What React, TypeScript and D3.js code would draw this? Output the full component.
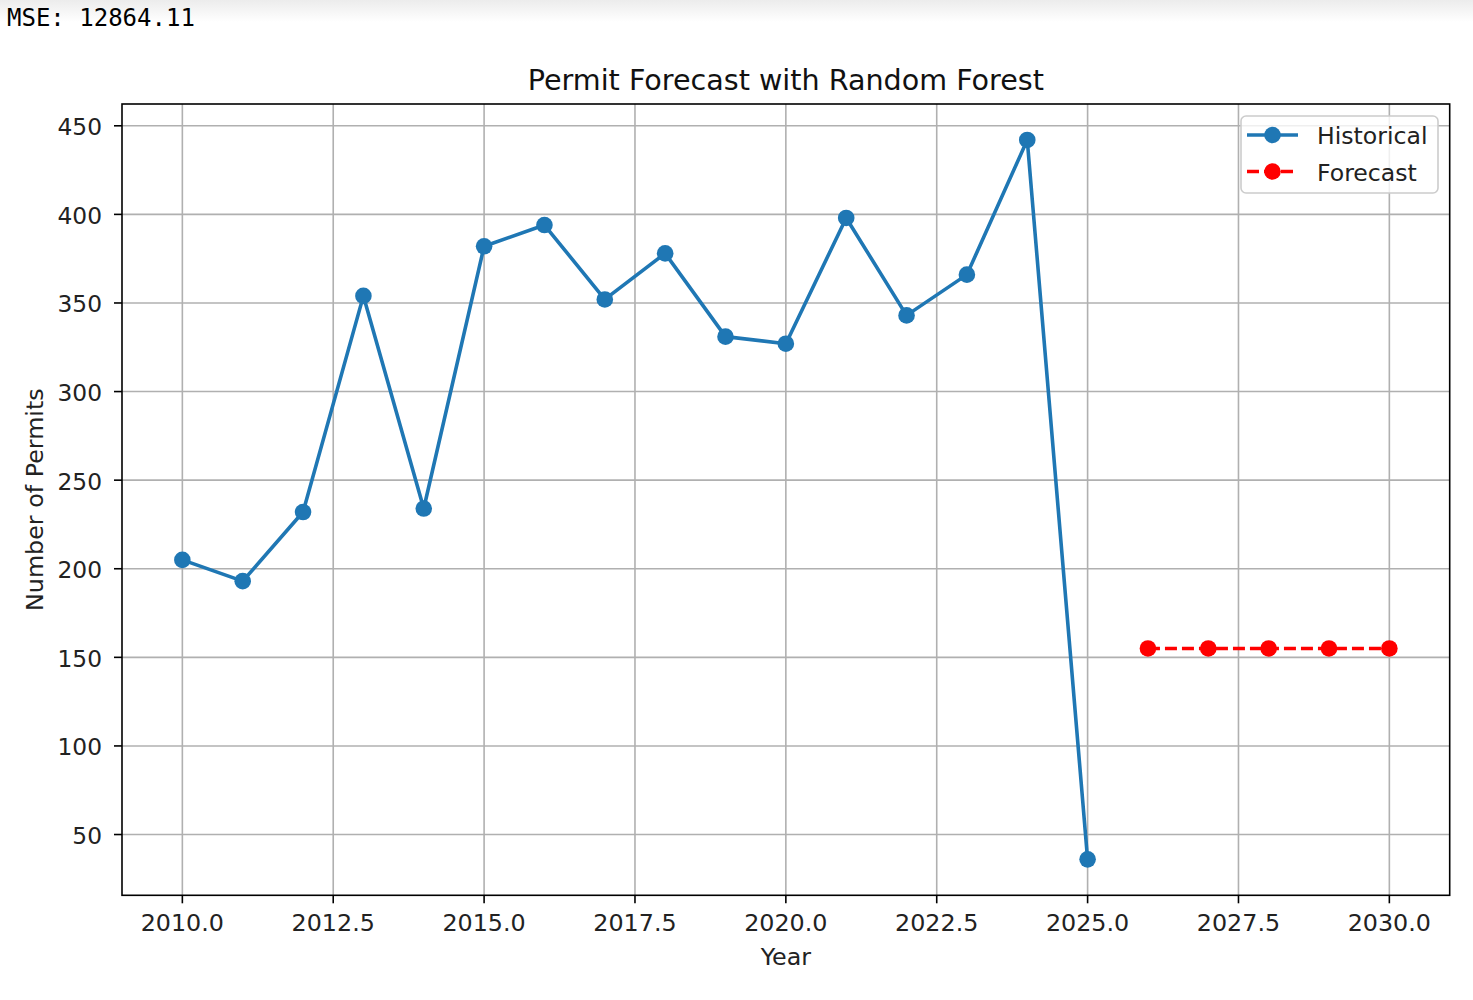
import React from "react";
import * as d3 from "d3";

const historicalYears = [2010, 2011, 2012, 2013, 2014, 2015, 2016, 2017, 2018, 2019, 2020, 2021, 2022, 2023, 2024, 2025];
const historicalValues = [205, 193, 232, 354, 234, 382, 394, 352, 378, 331, 327, 398, 343, 366, 442, 36];
const forecastYears = [2026, 2027, 2028, 2029, 2030];
const forecastValues = [155, 155, 155, 155, 155];
const xTicks = [2010, 2012.5, 2015, 2017.5, 2020, 2022.5, 2025, 2027.5, 2030];
const yTicks = [50, 100, 150, 200, 250, 300, 350, 400, 450];

const W = 1473;
const H = 1000;
const left = 122;
const right = 1449.7;
const top = 104;
const bottom = 895.3;
const BLUE = "#1f77b4";
const RED = "#ff0000";
const FONT = "'DejaVu Sans', sans-serif";

export default function App() {
  const allX = [...historicalYears, ...forecastYears];
  const allY = [...historicalValues, ...forecastValues];
  const [xmin, xmax] = d3.extent(allX) as [number, number];
  const [ymin, ymax] = d3.extent(allY) as [number, number];
  const xm = (xmax - xmin) * 0.05;
  const ym = (ymax - ymin) * 0.05;
  const x = d3.scaleLinear().domain([xmin - xm, xmax + xm]).range([left, right]);
  const y = d3.scaleLinear().domain([ymin - ym, ymax + ym]).range([bottom, top]);

  const line = d3.line<[number, number]>().x((d) => x(d[0])).y((d) => y(d[1]));
  const hist: [number, number][] = historicalYears.map((yr, i) => [yr, historicalValues[i]]);
  const fc: [number, number][] = forecastYears.map((yr, i) => [yr, forecastValues[i]]);

  return (
    <svg width={W} height={H} style={{ position: "absolute", left: 0, top: 0, background: "#fff" }}>
      <defs>
        <linearGradient id="topband" x1="0" y1="0" x2="0" y2="1">
          <stop offset="0" stopColor="#ececec" />
          <stop offset="1" stopColor="#ffffff" />
        </linearGradient>
        <clipPath id="plotclip">
          <rect x={left} y={top} width={right - left} height={bottom - top} />
        </clipPath>
      </defs>
      <rect x={0} y={0} width={W} height={H} fill="#fff" />
      <rect x={0} y={0} width={W} height={22} fill="url(#topband)" />
      <text x={7} y={26} fontFamily="'DejaVu Sans Mono', monospace" fontSize={24} fill="#000">
        MSE: 12864.11
      </text>

      {/* grid */}
      <g stroke="#b0b0b0" strokeWidth={1.6}>
        {xTicks.map((t) => (
          <line key={"gx" + t} x1={x(t)} x2={x(t)} y1={top} y2={bottom} />
        ))}
        {yTicks.map((t) => (
          <line key={"gy" + t} x1={left} x2={right} y1={y(t)} y2={y(t)} />
        ))}
      </g>

      {/* lines */}
      <g clipPath="url(#plotclip)">
        <path d={line(hist) || ""} fill="none" stroke={BLUE} strokeWidth={3.6} strokeLinejoin="round" />
        {hist.map((d, i) => (
          <circle key={"h" + i} cx={x(d[0])} cy={y(d[1])} r={8.3} fill={BLUE} />
        ))}
        <path d={line(fc) || ""} fill="none" stroke={RED} strokeWidth={3.6} strokeDasharray="12,5" />
        {fc.map((d, i) => (
          <circle key={"f" + i} cx={x(d[0])} cy={y(d[1])} r={8.3} fill={RED} />
        ))}
      </g>

      {/* spines */}
      <rect x={left} y={top} width={right - left} height={bottom - top} fill="none" stroke="#000" strokeWidth={1.6} />

      {/* x ticks */}
      {xTicks.map((t) => (
        <g key={"xt" + t}>
          <line x1={x(t)} x2={x(t)} y1={bottom} y2={bottom + 8} stroke="#000" strokeWidth={1.6} />
          <text x={x(t)} y={931} textAnchor="middle" fontFamily={FONT} fontSize={23.8} fill="#222">
            {t.toFixed(1)}
          </text>
        </g>
      ))}
      {/* y ticks */}
      {yTicks.map((t) => (
        <g key={"yt" + t}>
          <line x1={left - 8} x2={left} y1={y(t)} y2={y(t)} stroke="#000" strokeWidth={1.6} />
          <text x={102} y={y(t) + 9.5} textAnchor="end" fontFamily={FONT} fontSize={23.3} fill="#222">
            {t}
          </text>
        </g>
      ))}

      <text x={(left + right) / 2} y={90} textAnchor="middle" fontFamily={FONT} fontSize={28.6} fill="#111">
        Permit Forecast with Random Forest
      </text>
      <text x={(left + right) / 2} y={965} textAnchor="middle" fontFamily={FONT} fontSize={23.8} fill="#222">
        Year
      </text>
      <text
        transform={`translate(43, ${(top + bottom) / 2}) rotate(-90)`}
        textAnchor="middle"
        fontFamily={FONT}
        fontSize={23.8}
        fill="#222"
      >
        Number of Permits
      </text>

      {/* legend */}
      <g>
        <rect x={1241} y={116} width={197} height={77} rx={5} fill="#fff" fillOpacity={0.8} stroke="#cccccc" strokeWidth={1.6} />
        <line x1={1247} x2={1298} y1={135} y2={135} stroke={BLUE} strokeWidth={3.6} />
        <circle cx={1272.5} cy={135} r={8.3} fill={BLUE} />
        <text x={1317} y={144} fontFamily={FONT} fontSize={23.6} fill="#222">Historical</text>
        <line x1={1247} x2={1298} y1={171.5} y2={171.5} stroke={RED} strokeWidth={3.6} strokeDasharray="12,5" />
        <circle cx={1272.5} cy={171.5} r={8.3} fill={RED} />
        <text x={1317} y={180.5} fontFamily={FONT} fontSize={23.6} fill="#222">Forecast</text>
      </g>
    </svg>
  );
}
